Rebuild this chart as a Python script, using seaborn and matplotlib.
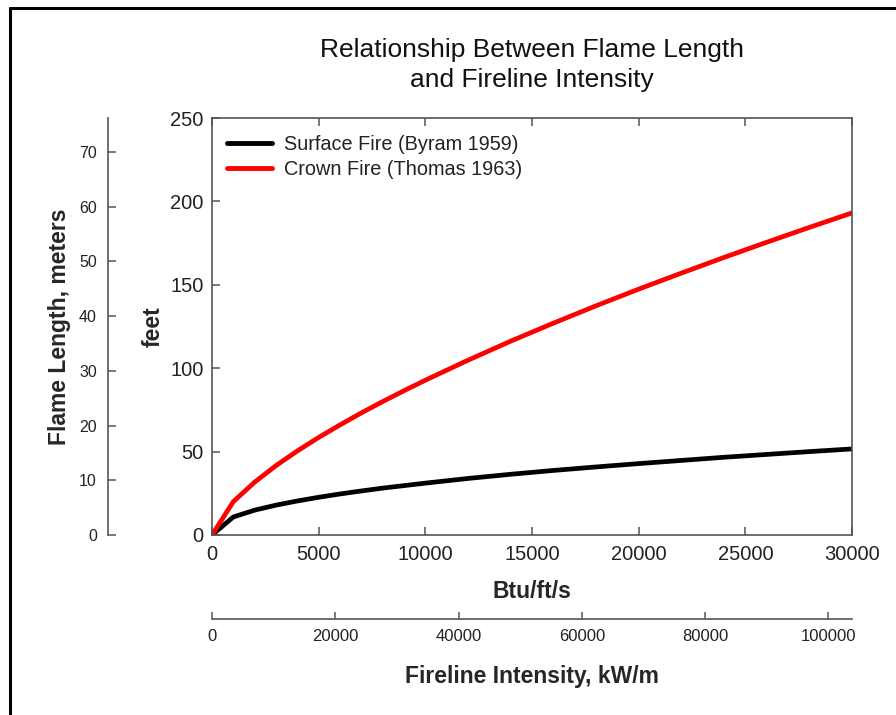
import matplotlib
matplotlib.use("Agg")
import matplotlib.pyplot as plt
from matplotlib.lines import Line2D
import numpy as np
import pandas as pd
import seaborn as sns

# Fireline intensity (Btu/ft/s) and flame length (feet) for the two fire types
intensity = [0, 1000, 2000, 3000, 4000, 5000, 6000, 7000, 8000, 9000, 10000,
             12000, 14000, 16000, 18000, 20000, 22000, 24000, 26000, 28000, 30000]
surface_ft = [0, 10.8, 14.9, 17.9, 20.4, 22.6, 24.6, 26.4, 28.1, 29.6, 31.1,
              33.9, 36.4, 38.7, 40.8, 42.8, 44.7, 46.6, 48.3, 50.0, 51.6]
crown_ft = [0, 20.0, 31.7, 41.6, 50.4, 58.5, 66.0, 73.2, 80.0, 86.5, 92.8,
            104.8, 116.2, 127.0, 137.4, 147.4, 157.0, 166.4, 175.5, 184.4, 193.1]
series_names = ["Surface Fire (Byram 1959)", "Crown Fire (Thomas 1963)"]
series_colors = ["#000000", "#ff0000"]

x_ticks = [0, 5000, 10000, 15000, 20000, 25000, 30000]
y_ticks = [0, 50, 100, 150, 200, 250]
m_ticks = [0, 10, 20, 30, 40, 50, 60, 70]
kw_ticks = [0, 20000, 40000, 60000, 80000, 100000]

FT_TO_M = 0.3048
BTU_TO_KW = 3.4613

df = pd.DataFrame({
    "Btu/ft/s": intensity * 2,
    "feet": surface_ft + crown_ft,
    "series": [series_names[0]] * len(intensity) + [series_names[1]] * len(intensity),
})

sns.set_theme(style="ticks")
plt.rcParams["font.family"] = ["Liberation Sans", "DejaVu Sans"]

W, H = 896, 715
fig = plt.figure(figsize=(W / 100, H / 100), dpi=100)
fig.patch.set_facecolor("white")

x0, x1, y0, y1 = 212, 852, 118, 535
ax = fig.add_axes([x0 / W, 1 - y1 / H, (x1 - x0) / W, (y1 - y0) / H])

sns.lineplot(data=df, x="Btu/ft/s", y="feet", hue="series",
             palette=dict(zip(series_names, series_colors)),
             linewidth=3.4, ax=ax, legend=True)

ax.set_xlim(0, 30000)
ax.set_ylim(0, 250)
ax.set_xticks(x_ticks)
ax.set_yticks(y_ticks)

spine_col = "#555555"
text_col = "#222222"
for s in ax.spines.values():
    s.set_color(spine_col)
    s.set_linewidth(1.2)
ax.tick_params(axis="both", direction="in", length=6, width=1.1, color=spine_col,
               labelsize=14.5, labelcolor=text_col, top=True, right=False, pad=7)
ax.tick_params(axis="y", pad=6)

ax.set_xlabel("Btu/ft/s", fontsize=16.5, fontweight="bold", labelpad=12)
ax.set_ylabel("feet", fontsize=16.5, fontweight="bold", labelpad=4)

leg = ax.legend(loc="upper left", frameon=False, fontsize=14.3, handlelength=2.3,
                handletextpad=0.6, borderaxespad=0.6, labelspacing=0.3,
                bbox_to_anchor=(-0.008, 1.007))
for line in leg.get_lines():
    line.set_linewidth(3.5)
for t in leg.get_texts():
    t.set_color(text_col)

# Meters scale on its own offset spine
loc_m = (108 - x0) / (x1 - x0)
ax_m = ax.secondary_yaxis(loc_m, functions=(lambda v: v * FT_TO_M, lambda v: v / FT_TO_M))
ax_m.set_yticks(m_ticks)
ax_m.spines["left"].set_color(spine_col)
ax_m.spines["left"].set_linewidth(1.2)
ax_m.tick_params(direction="in", length=6, width=1.1, color=spine_col,
                 labelsize=11.5, labelcolor=text_col, pad=8)
ax_m.set_ylabel("Flame Length, meters", fontsize=16.5, fontweight="bold", labelpad=6)

# kW/m scale below the Btu axis
loc_kw = (y1 - 619) / (y1 - y0)
ax_kw = ax.secondary_xaxis(loc_kw, functions=(lambda v: v * BTU_TO_KW, lambda v: v / BTU_TO_KW))
ax_kw.set_xticks(kw_ticks)
ax_kw.spines["bottom"].set_color(spine_col)
ax_kw.spines["bottom"].set_linewidth(1.2)
ax_kw.tick_params(direction="in", length=5, width=1.1, color=spine_col,
                  labelsize=12, labelcolor=text_col, pad=7)
ax_kw.set_xlabel("Fireline Intensity, kW/m", fontsize=16.5, fontweight="bold", labelpad=15)

fig.text((x0 + x1) / 2 / W, 1 - 65 / H,
         "Relationship Between Flame Length\nand Fireline Intensity",
         ha="center", va="center", fontsize=19, linespacing=1.3, color="#111111")

# Outer frame: top and left edges
fy = 1 - 8 / H
fx = 10 / W
fig.add_artist(Line2D([fx, 1.0], [fy, fy], transform=fig.transFigure, color="black", linewidth=2.2))
fig.add_artist(Line2D([fx, fx], [0.0, fy], transform=fig.transFigure, color="black", linewidth=2.2))

fig.savefig("out.png", dpi=100, facecolor="white")
